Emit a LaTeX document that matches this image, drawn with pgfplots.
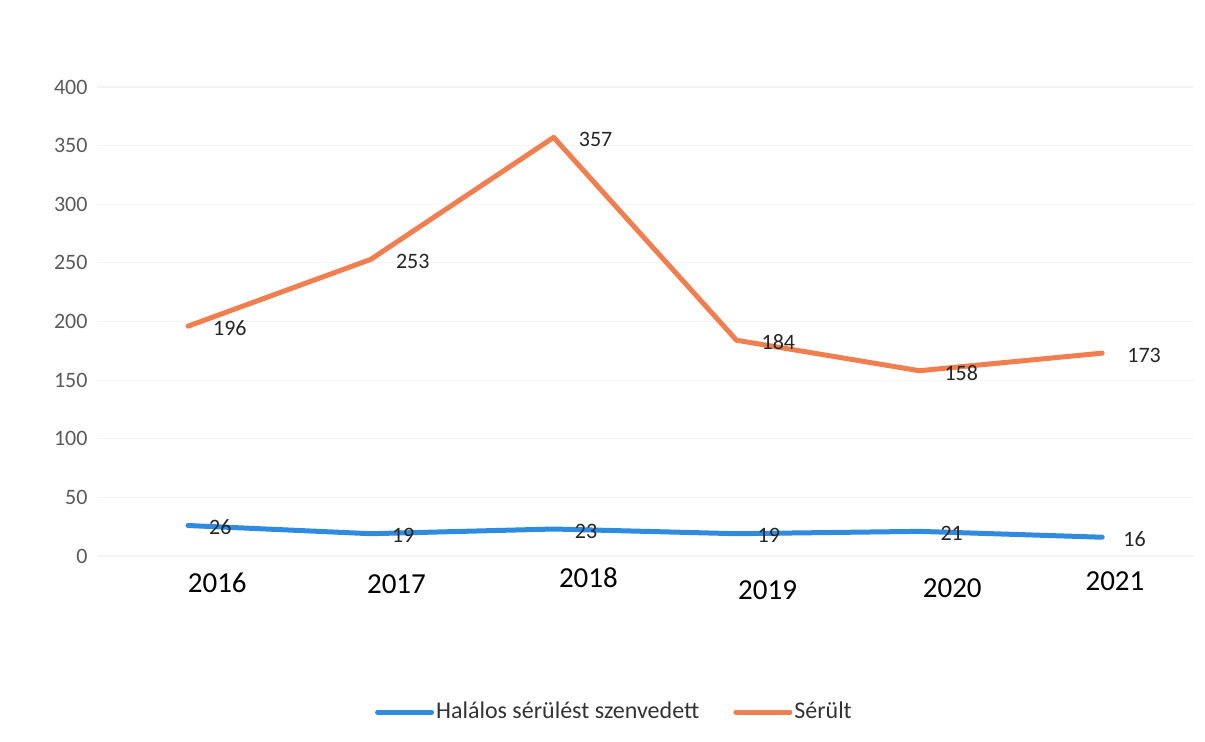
\documentclass[border=0pt]{standalone}
\usepackage{fontspec}
\setmainfont{Carlito}
\usepackage{pgfplots}
\pgfplotsset{compat=1.18}
\definecolor{lineblue}{HTML}{2E8BE0}
\definecolor{lineorange}{HTML}{F07E4E}
\definecolor{ticky}{HTML}{5A5A5A}
\definecolor{gridc}{HTML}{F4F4F4}
\begin{document}
\begin{tikzpicture}
\path (0pt,0pt) rectangle (602.5pt,371pt);
\begin{axis}[
  at={(48.3pt,93pt)}, anchor=south west,
  scale only axis, width=548.5pt, height=234.5pt,
  xmin=-0.5, xmax=5.5, ymin=0, ymax=400,
  axis line style={draw=none},
  ytick={0,50,...,400},
  xtick={0.16,1.14,2.19,3.17,4.18,5.07},
  xticklabels={2016,\raisebox{-0.5pt}{2017},\raisebox{2.5pt}{2018},\raisebox{-3.5pt}{2019},\raisebox{-2.5pt}{2020},\raisebox{1pt}{2021}},
  ymajorgrids, major grid style={gridc, line width=0.6pt},
  major tick length=0pt, tick style={draw=none},
  /pgf/number format/assume math mode=true,
  yticklabel style={font=\fontsize{11}{13}\selectfont, text=ticky, xshift=-1pt},
  xticklabel style={font=\fontsize{14.5}{16}\selectfont, text=black, yshift=-4.5pt, text height=10pt, text depth=1pt},
  legend style={at={(0.2535,-0.333)}, anchor=west, draw=none, fill=none,
    font=\fontsize{12}{14}\selectfont, text=black!80, legend columns=2,
    /tikz/every even column/.append style={column sep=16pt},
    inner sep=0pt, nodes={inner sep=1pt}},
  legend image code/.code={\draw[#1, line cap=round] (0pt,0pt) -- (27pt,0pt);},
  nodes near coords,
  every node near coord/.append style={anchor=west, font=\fontsize{11}{13}\selectfont, text=black!85},
  clip=false,
]
\addplot[lineblue, line width=2.5pt, line join=round, line cap=round, mark=none,
  every node near coord/.append style={xshift=6pt, yshift=-1pt}]
  coordinates {(0,26) (1,19) (2,23) (3,19) (4,21) (5,16)};
\addlegendentry{Halálos sérülést szenvedett}
\addplot[lineorange, line width=2.5pt, line join=round, line cap=round, mark=none,
  every node near coord/.append style={xshift=8pt, yshift=-1pt}]
  coordinates {(0,196) (1,253) (2,357) (3,184) (4,158) (5,173)};
\addlegendentry{Sérült}
\end{axis}
\end{tikzpicture}
\end{document}
